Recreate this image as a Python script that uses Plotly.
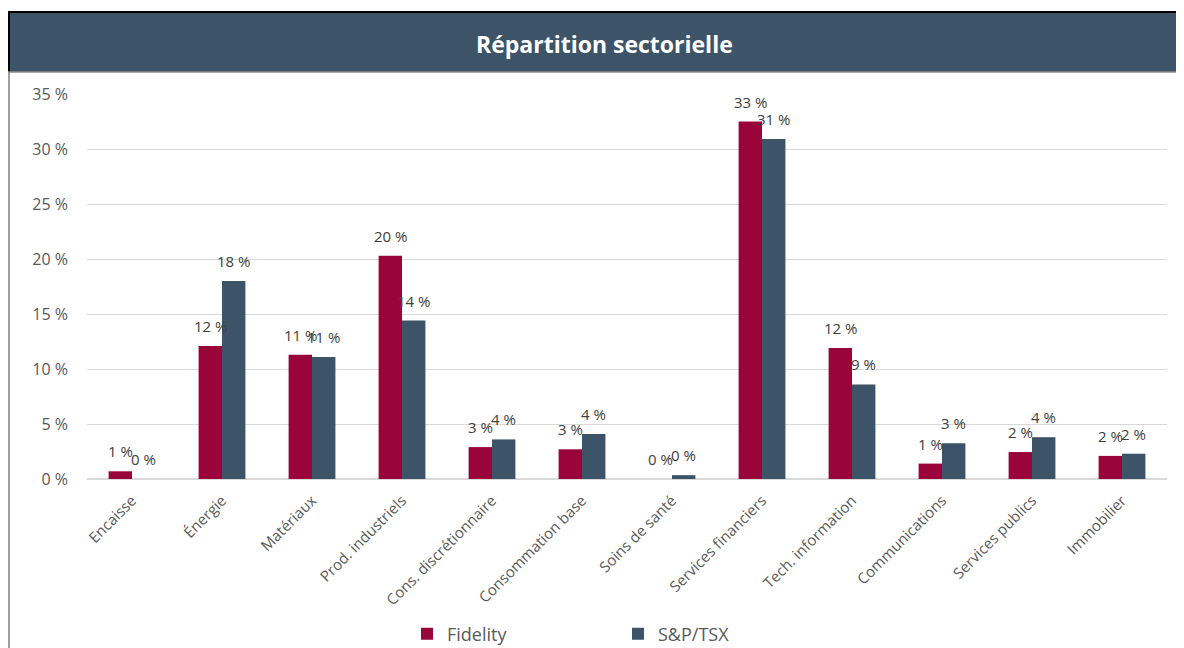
import plotly.graph_objects as go

categories = ["Encaisse", "Énergie", "Matériaux", "Prod. industriels", "Cons. discrétionnaire",
              "Consommation base", "Soins de santé", "Services financiers", "Tech. information",
              "Communications", "Services publics", "Immobilier"]
fidelity = [0.7, 12.1, 11.3, 20.3, 2.9, 2.7, 0.0, 32.5, 11.9, 1.4, 2.45, 2.1]
sptsx = [0.0, 18.0, 11.1, 14.4, 3.6, 4.1, 0.35, 30.9, 8.6, 3.25, 3.8, 2.3]
series_names = ["Fidelity", "S&P/TSX"]
y_ticks = [0, 5, 10, 15, 20, 25, 30, 35]
title_text = "Répartition sectorielle"

RED = "#990538"
BLUE = "#3D5468"
TXT = "#595959"
FONT = "Open Sans"

# page has an 8px body margin: figure occupies screen (8..1184, 8..648)
OFF = 8
W, H = 1184 - OFF, 648 - OFF
L, R, T, B = 87 - OFF, 17, 94 - OFF, H - (479 - OFF)
pw, ph = W - L - R, H - T - B

def sx(px):  # screen x pixel -> paper
    return (px - OFF - L) / pw

def sy(py):  # screen y pixel -> paper
    return (H - B - (py - OFF)) / ph

fig = go.Figure()
for name, vals, col in [(series_names[0], fidelity, RED), (series_names[1], sptsx, BLUE)]:
    fig.add_trace(go.Bar(x=categories, y=vals, name=name, marker=dict(color=col, line=dict(width=0)),
                         hoverinfo="x+y"))

# data labels
bar_w = pw / len(categories) * 0.52 / 2
for k, vals in enumerate([fidelity, sptsx]):
    shift = -bar_w / 2 if k == 0 else bar_w / 2
    for c, v in zip(categories, vals):
        fig.add_annotation(x=c, y=v, text=f"{int(v + 0.5)} %", showarrow=False,
                           xshift=shift, yshift=20, yanchor="middle",
                           font=dict(family=FONT, size=15, color="#404040"))

# title bar
fig.add_shape(type="rect", xref="paper", yref="paper",
              x0=sx(8), x1=sx(1200), y0=sy(72), y1=sy(12),
              fillcolor=BLUE, line=dict(width=0), layer="below")
fig.add_shape(type="line", xref="paper", yref="paper",
              x0=sx(8), x1=sx(1200), y0=sy(12), y1=sy(12),
              line=dict(color="#000000", width=2))
fig.add_shape(type="line", xref="paper", yref="paper",
              x0=sx(9), x1=sx(9), y0=sy(12), y1=sy(72),
              line=dict(color="#000000", width=2))
fig.add_shape(type="line", xref="paper", yref="paper",
              x0=sx(9), x1=sx(9), y0=sy(72), y1=sy(660),
              line=dict(color="#7F7F7F", width=1.5))
fig.add_shape(type="line", xref="paper", yref="paper",
              x0=sx(8), x1=sx(1200), y0=sy(72), y1=sy(72),
              line=dict(color="#8C8C8C", width=1.5))
fig.add_annotation(xref="paper", yref="paper", x=sx(604), y=sy(44),
                   text=f"<b>{title_text}</b>", showarrow=False, xanchor="center", yanchor="middle",
                   font=dict(family=FONT, size=23, color="#FFFFFF"))

fig.update_layout(
    width=W, height=H,
    margin=dict(l=L, r=R, t=T, b=B, autoexpand=False),
    paper_bgcolor="#FFFFFF", plot_bgcolor="#FFFFFF",
    barmode="group", bargap=0.48, bargroupgap=0,
    font=dict(family=FONT, color=TXT),
    showlegend=True,
    legend=dict(orientation="h", x=sx(407), xanchor="left", y=sy(634), yanchor="middle",
                font=dict(family=FONT, size=18, color=TXT), entrywidth=166, entrywidthmode="pixels",
                itemwidth=30, bgcolor="rgba(0,0,0,0)"),
    xaxis=dict(tickangle=-45, tickfont=dict(family=FONT, size=15, color=TXT), showgrid=False,
               showline=True, linecolor="#D9D9D9", linewidth=1, ticks="", fixedrange=True,
               automargin=False, ticklabelstandoff=6),
    yaxis=dict(range=[0, 35], tickvals=y_ticks, ticktext=[f"{t} %" for t in y_ticks],
               tickfont=dict(family=FONT, size=16, color=TXT), showgrid=True, gridcolor="#D9D9D9",
               gridwidth=1.3, zeroline=True, zerolinecolor="#D9D9D9", showline=False, ticks="",
               ticklabelstandoff=18, fixedrange=True, automargin=False),
)

fig.write_html("out.html")
